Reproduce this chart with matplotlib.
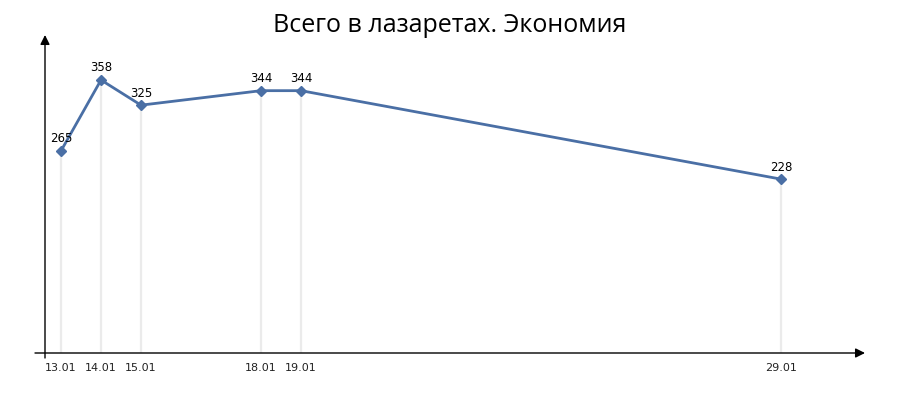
import matplotlib
matplotlib.use("Agg")
import matplotlib.pyplot as plt

# x positions (the axis spacing in the reference)
x_pos = [13, 14, 15, 18, 19, 31]
labels = ["13.01", "14.01", "15.01", "18.01", "19.01", "29.01"]
values = [265, 358, 325, 344, 344, 228]
title = "Всего в лазаретах. Экономия"

plt.rcParams['font.family'] = ['Open Sans', 'DejaVu Sans']

fig = plt.figure(figsize=(9, 4), dpi=100)
ax = fig.add_axes([45/900, 47/400, 820/900, 318/400])
ax.set_xlim(12.6, 33.1)
ax.set_ylim(0, 417)
for s in ax.spines.values():
    s.set_visible(False)
ax.set_xticks([])
ax.set_yticks([])

# vertical guide lines
for d, v in zip(x_pos, values):
    ax.plot([d, d], [0, v], color="#ebebeb", lw=1.6, zorder=1, solid_capstyle='butt')

ax.plot(x_pos, values, color="#4a6fa5", lw=2.0, marker='D', markersize=5.5,
        markerfacecolor="#4a6fa5", markeredgecolor="#4a6fa5", zorder=3)

for d, v in zip(x_pos, values):
    ax.annotate(str(v), (d, v), xytext=(0, 4), textcoords='offset points',
                ha='center', va='bottom', fontsize=8.5, color='black', zorder=4,
                family=['DejaVu Sans'])

for d, l in zip(x_pos, labels):
    ax.text(d, -13, l, ha='center', va='top', fontsize=8, color='#222222',
            family=['DejaVu Sans'])

# axes with arrows
ax.annotate('', xy=(1.0, 0), xytext=(-10/820, 0), xycoords='axes fraction',
            textcoords='axes fraction',
            arrowprops=dict(arrowstyle='-|>', color='black', lw=1.0,
                            mutation_scale=14, shrinkA=0, shrinkB=0))
ax.annotate('', xy=(0, 1.0), xytext=(0, -5/318), xycoords='axes fraction',
            textcoords='axes fraction',
            arrowprops=dict(arrowstyle='-|>', color='black', lw=1.0,
                            mutation_scale=14, shrinkA=0, shrinkB=0))

fig.text(0.5, 1 - 26/400, title, ha='center', va='center', fontsize=18, color='black')

fig.savefig("out.png", dpi=100, facecolor='white')
